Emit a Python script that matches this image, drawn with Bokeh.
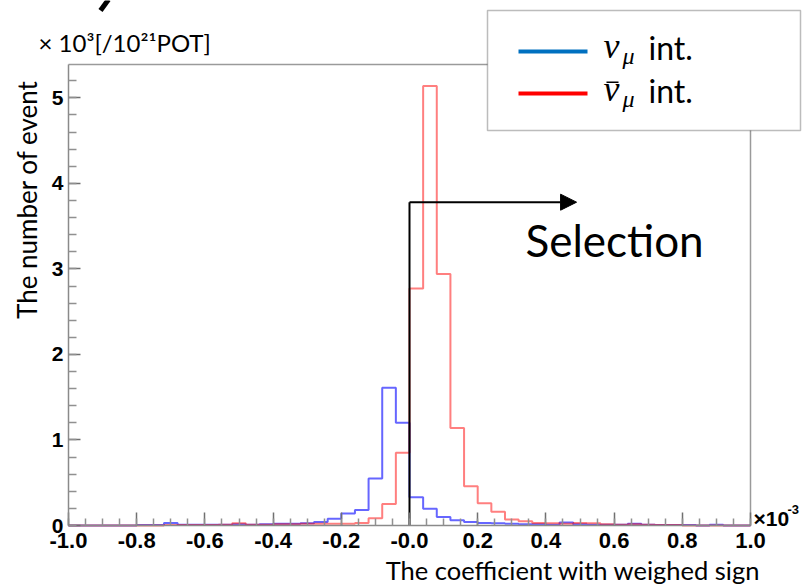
import numpy as np
from bokeh.plotting import figure
from bokeh.models import (Label, BoxAnnotation, Arrow, NormalHead, FixedTicker,
                          CustomJSTickFormatter, Range1d)
from bokeh.embed import file_html
from bokeh.resources import INLINE

# ---------------- data ----------------
bin_low = -1.0
bin_width = 0.04

numu_counts = [0.0, 0.0, 0.0, 0.0, 0.0, 0.005, 0.005, 0.03, 0.01, 0.01,
               0.01, 0.01, 0.015, 0.01, 0.015, 0.02, 0.02, 0.025, 0.04, 0.08,
               0.14, 0.18, 0.55, 1.61, 1.20, 0.33, 0.195, 0.10, 0.06, 0.04,
               0.03, 0.025, 0.02, 0.015, 0.015, 0.01, 0.035, 0.015, 0.01, 0.01,
               0.01, 0.02, 0.01, 0.005, 0.005, 0.005, 0.0, 0.01, 0.0, 0.0]

numubar_counts = [0.0, 0.0, 0.0, 0.0, 0.0, 0.0, 0.0, 0.005, 0.005, 0.005,
                  0.005, 0.01, 0.025, 0.01, 0.01, 0.015, 0.015, 0.02, 0.02, 0.02,
                  0.02, 0.03, 0.085, 0.25, 0.85, 2.77, 5.14, 2.94, 1.14, 0.46,
                  0.26, 0.16, 0.07, 0.05, 0.03, 0.025, 0.02, 0.03, 0.025, 0.015,
                  0.01, 0.015, 0.01, 0.005, 0.005, 0.0, 0.0, 0.0, 0.0, 0.0]

xticks = [-1.0, -0.8, -0.6, -0.4, -0.2, 0.0, 0.2, 0.4, 0.6, 0.8, 1.0]
xtick_labels = ["-1.0", "-0.8", "-0.6", "-0.4", "-0.2", "-0.0",
                "0.2", "0.4", "0.6", "0.8", "1.0"]
yticks = [0, 1, 2, 3, 4, 5]

selection_cut = 0.0
selection_height = 3.78
selection_arrow_end = 0.49

x_min, x_max = -1.0, 1.0
y_min, y_max = 0.0, 5.39

# ---------------- layout geometry (pixels) ----------------
W, H = 802, 586
area_left, area_right, area_top, area_bottom = 68, 750, 64, 525
sx = (x_max - x_min) / (area_right - area_left)
sy = (y_max - y_min) / (area_bottom - area_top)
xr = Range1d(x_min - area_left * sx, x_max + (W - area_right) * sx)
yr = Range1d(y_min - (H - area_bottom) * sy, y_max + area_top * sy)
BASE_SHIFT = 0.35  # em offset correcting Bokeh's alphabetic baseline placement


def px2x(px):
    return xr.start + px * sx


def py2y(py):
    return yr.end - py * sy


p = figure(width=W, height=H, output_backend="svg", toolbar_location=None,
           x_range=xr, y_range=yr, min_border=0,
           background_fill_color="white", border_fill_color="white")
p.grid.visible = False
p.outline_line_color = None

edges = bin_low + bin_width * np.arange(len(numu_counts) + 1)


def outline(counts):
    xs = np.repeat(edges, 2)
    ys = np.concatenate([[0.0], np.repeat(np.asarray(counts, float), 2), [0.0]])
    return xs, ys


# frame (top and right sides, ROOT style)
p.segment(x0=[x_min, x_max], y0=[y_max, y_min], x1=[x_max, x_max], y1=[y_max, y_max],
          line_color="#9a9a9a", line_width=1.5)

bx, by = outline(numu_counts)
rx, ry = outline(numubar_counts)
p.line(bx, by, line_color="#0000ff", line_width=2, line_alpha=0.6)
p.line(rx, ry, line_color="#ff0000", line_width=2, line_alpha=0.5)

# selection line + arrow
p.segment(x0=[selection_cut], y0=[0.0], x1=[selection_cut], y1=[selection_height],
          line_color="black", line_width=2)
p.add_layout(Arrow(end=NormalHead(size=16, fill_color="black", line_color="black"),
                   x_start=selection_cut, y_start=selection_height,
                   x_end=selection_arrow_end, y_end=selection_height,
                   line_color="black", line_width=2))
p.add_layout(Label(x=0.34, y=3.16 + BASE_SHIFT * 44 * sy, text="Selection",
                   text_font="Lato", text_font_size="44px", text_color="black",
                   text_baseline="alphabetic"))

# axes drawn at the data-area edges
minor_x = [float(v) for v in np.round(np.arange(-1.0, 1.0001, 0.05), 3)]
minor_y = [float(v) for v in np.round(np.arange(0.0, 5.39, 0.2), 3)]
p.xaxis.ticker = FixedTicker(ticks=xticks, minor_ticks=minor_x)
p.yaxis.ticker = FixedTicker(ticks=yticks, minor_ticks=minor_y)
p.xaxis.fixed_location = y_min
p.yaxis.fixed_location = x_min
p.xaxis.bounds = (x_min, x_max)
p.yaxis.bounds = (y_min, y_max)
p.xaxis.formatter = CustomJSTickFormatter(
    args=dict(tvals=xticks, tlabels=xtick_labels),
    code="""
    let best = 0, d = 1e9;
    for (let i = 0; i < tvals.length; i++) {
        const dd = Math.abs(tvals[i] - tick);
        if (dd < d) { d = dd; best = i; }
    }
    return tlabels[best];
    """)

for ax in (p.xaxis, p.yaxis):
    ax.axis_line_color = "#8a8a8a"
    ax.axis_line_width = 1.5
    ax.major_tick_line_color = "#707070"
    ax.minor_tick_line_color = "#909090"
    ax.major_tick_line_width = 1.5
    ax.minor_tick_line_width = 1.5
    ax.major_tick_out = 0
    ax.minor_tick_out = 0
    ax.major_label_text_font = "Liberation Sans"
    ax.major_label_text_font_style = "bold"
    ax.major_label_text_color = "black"
p.xaxis.major_label_text_font_size = "22px"
p.yaxis.major_label_text_font_size = "21px"
p.xaxis.major_tick_in = 13
p.xaxis.minor_tick_in = 7
p.yaxis.major_tick_in = 12
p.yaxis.minor_tick_in = 8
p.xaxis.major_label_standoff = 7
p.yaxis.major_label_standoff = 5


def slabel(px, py, text, font="Lato", size=24, style="normal", align="left",
           baseline="alphabetic", angle=0.0, color="black"):
    # px, py: pixel position from the top-left corner of the canvas
    if baseline == "alphabetic":
        py = py - BASE_SHIFT * size
    p.add_layout(Label(x=px, y=H - py, x_units="screen", y_units="screen", text=text,
                       text_font=font, text_font_size=f"{size}px",
                       text_font_style=style, text_align=align,
                       text_baseline=baseline, angle=angle, text_color=color))


def sbox(left, right, top, bottom, fill, line=None, lw=1.5):
    p.add_layout(BoxAnnotation(left=left, right=right, top=H - top, bottom=H - bottom,
                               left_units="screen", right_units="screen",
                               bottom_units="screen", top_units="screen",
                               fill_color=fill, fill_alpha=1.0,
                               line_color=line, line_width=lw))


# axis titles (ROOT-style, end aligned)
slabel(26, 199, "The number of event", size=26, align="center",
       baseline="middle", angle=np.pi / 2)
slabel(760, 578, "The coefficient with weighed sign", size=25.5, align="right")

# unit labels
slabel(38, 50, "× 10³[/10²¹POT]", size=24)
slabel(753, 525, "×10", font="Liberation Sans", size=21, style="bold")
slabel(787, 514, "-3", font="Liberation Sans", size=13, style="bold")

# clipped stroke at the very top of the slide
p.segment(x0=[px2x(108)], y0=[py2y(-1)], x1=[px2x(100)], y1=[py2y(10)],
          line_color="black", line_width=5)

# legend box
sbox(487, 800, 10, 130, "white", line="#222222", lw=1.5)
sbox(518, 587, 49, 53, "#0070c0")
sbox(518, 587, 91, 95, "#ff0000")
slabel(603, 58, "ν", font="Liberation Serif", size=36, style="italic")
slabel(622, 64, "μ", font="Liberation Serif", size=24, style="italic")
slabel(648, 58, "int.", size=32)
slabel(603, 101, "ν", font="Liberation Serif", size=36, style="italic")
sbox(606, 618, 81, 82.5, "black")
slabel(622, 107, "μ", font="Liberation Serif", size=24, style="italic")
slabel(648, 101, "int.", size=32)

open("out.html", "w").write(file_html(p, INLINE))
